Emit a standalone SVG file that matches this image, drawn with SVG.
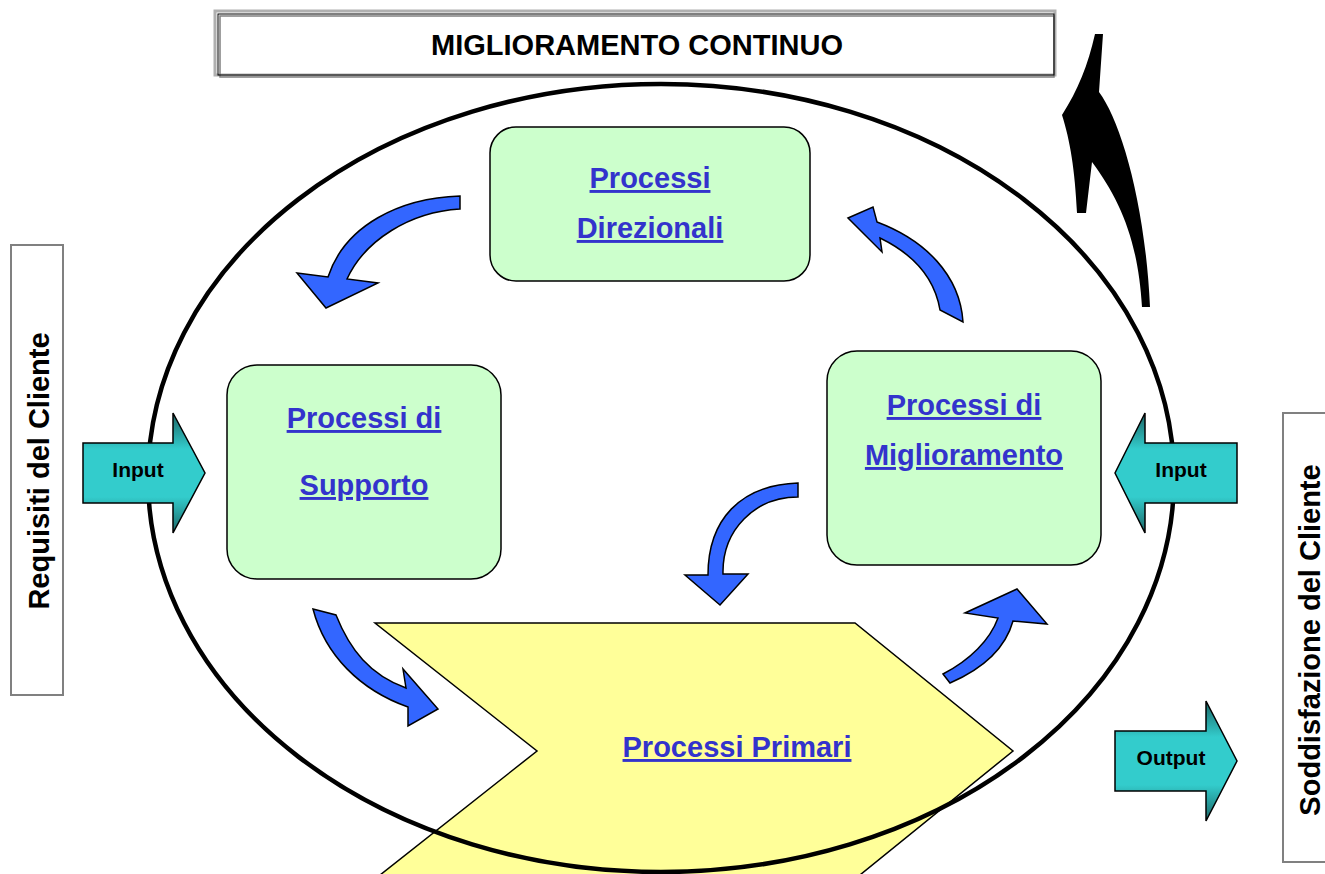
<svg xmlns="http://www.w3.org/2000/svg" width="1325" height="874" viewBox="0 0 1325 874">
<defs>
<linearGradient id="teal" x1="0" y1="0" x2="0" y2="1">
<stop offset="0" stop-color="#1a6666"/>
<stop offset="0.3" stop-color="#33cccc"/>
<stop offset="0.7" stop-color="#33cccc"/>
<stop offset="1" stop-color="#1a6666"/>
</linearGradient>
<style>
.box{fill:#ccffcc;stroke:#000;stroke-width:1.5}
.lnk{font-family:"Liberation Sans",Arial,sans-serif;font-weight:bold;font-size:29px;fill:#3333cc;text-decoration:underline;text-anchor:middle}
.blue{fill:#3366ff;stroke:#000;stroke-width:1.5;stroke-linejoin:miter}
.teal{fill:url(#teal);stroke:#000;stroke-width:1.5}
.lbl{font-family:"Liberation Sans",Arial,sans-serif;font-weight:bold;fill:#000;text-anchor:middle}
.side{fill:#fff;stroke:#808080;stroke-width:2}
</style>
</defs>
<rect width="1325" height="874" fill="#fff"/>

<g id="banner">
<rect x="215" y="11" width="840" height="64" fill="#fff" stroke="#b0b0b0" stroke-width="3"/>
<rect x="220" y="16" width="834" height="61" fill="none" stroke="#808080" stroke-width="1.5"/>
<rect x="218" y="14" width="836" height="61" fill="none" stroke="#000" stroke-width="1"/>
<text class="lbl" x="637" y="55" font-size="29">MIGLIORAMENTO CONTINUO</text>
</g>

<g id="primari">
<path d="M375,623 L855,623 L1013,751 L855,879 L375,879 L537,751 Z" fill="#ffff99" stroke="#000" stroke-width="1.5"/>
<text class="lnk" x="737" y="757">Processi Primari</text>
</g>

<g id="cycle">
<ellipse cx="661" cy="478" rx="513" ry="394" fill="none" stroke="#000" stroke-width="4.5"/>
</g>

<g id="direzionali">
<rect class="box" x="490" y="127" width="320" height="154" rx="26"/>
<text class="lnk" x="650" y="188">Processi</text>
<text class="lnk" x="650" y="238">Direzionali</text>
</g>

<g id="supporto">
<rect class="box" x="227" y="365" width="274" height="214" rx="30"/>
<text class="lnk" x="364" y="428">Processi di</text>
<text class="lnk" x="364" y="495">Supporto</text>
</g>

<g id="miglioramento">
<rect class="box" x="827" y="351" width="274" height="214" rx="30"/>
<text class="lnk" x="964" y="415">Processi di</text>
<text class="lnk" x="964" y="465">Miglioramento</text>
</g>

<g id="requisiti">
<rect class="side" x="11" y="245" width="52" height="450"/>
<text class="lbl" font-size="29" transform="translate(49,471) rotate(-90)">Requisiti del Cliente</text>
</g>

<g id="soddisfazione">
<rect class="side" x="1283" y="413" width="50" height="449"/>
<text class="lbl" font-size="29" transform="translate(1320,640) rotate(-90)">Soddisfazione del Cliente</text>
</g>

<g id="input-left">
<path class="teal" d="M83,443 L173,443 L173,413 L205,473 L173,533 L173,503 L83,503 Z"/>
<text class="lbl" x="138" y="477" font-size="21">Input</text>
</g>

<g id="input-right">
<path class="teal" d="M1237,443 L1145,443 L1145,413 L1115,473 L1145,533 L1145,503 L1237,503 Z"/>
<text class="lbl" x="1181" y="477" font-size="21">Input</text>
</g>

<g id="output">
<path class="teal" d="M1115,731 L1206,731 L1206,701 L1237,761 L1206,821 L1206,791 L1115,791 Z"/>
<text class="lbl" x="1171" y="765" font-size="21">Output</text>
</g>

<g id="connectors">
<path class="blue" d="M460,196 C400,198 345,225 328,277 L297,273 L326,308 L378,283 L347,279 C365,240 410,212 460,209 Z"/>
<path class="blue" d="M848,218 L873,207 L877,222 C925,240 960,275 963,322 L940,310 C935,280 915,255 880,238 L882,252 Z"/>
<path class="blue" d="M798,483 C740,485 708,520 708,575 L685,575 L720,605 L748,574 L723,574 C722,530 755,497 798,497 Z"/>
<path class="blue" d="M313,609 L336,615 C350,650 370,675 406,688 L403,669 L438,709 L408,726 L408,707 C360,690 325,655 313,609 Z"/>
<path class="blue" d="M943,674 C970,660 990,640 998,618 L965,613 L1017,589 L1047,624 L1013,621 C1005,650 980,670 950,683 Z"/>
<path d="M1095,34 L1103,34 L1099,92 C1120,120 1145,200 1150,307 L1142,307 C1138,240 1120,200 1092,162 L1086,213 L1077,213 C1075,170 1070,140 1062,115 C1078,90 1088,65 1095,34 Z" fill="#000"/>
</g>
</svg>
